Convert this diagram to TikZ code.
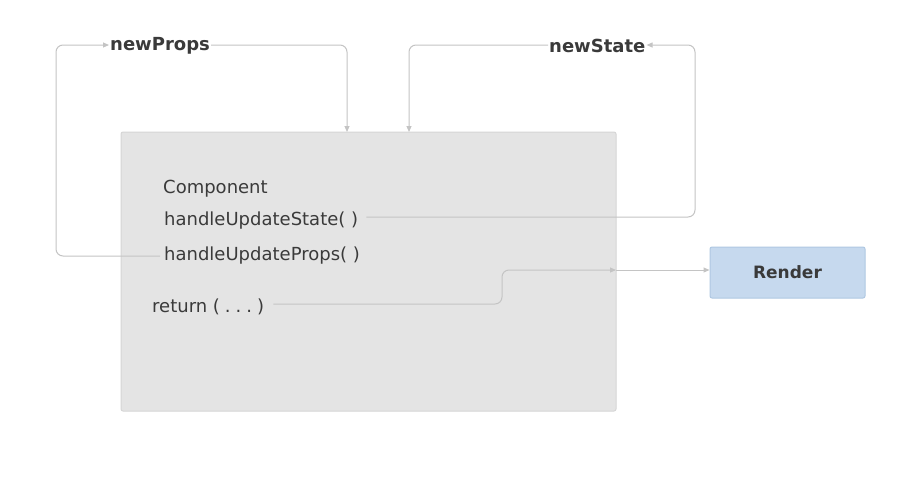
\documentclass[tikz,border=0pt]{standalone}
\usepackage{fontspec}
\setmainfont{DejaVu Sans}
\usetikzlibrary{arrows.meta,calc}
\definecolor{boxfill}{HTML}{E4E4E4}
\definecolor{boxline}{HTML}{D6D6D6}
\definecolor{conncol}{HTML}{C4C4C4}
\definecolor{rendfill}{HTML}{C6D9EE}
\definecolor{rendline}{HTML}{AFC8E2}
\definecolor{txt}{HTML}{3A3A3A}
\tikzset{
  x=1pt,y=1pt,
  comp/.style={draw=boxline,fill=boxfill,line width=1pt,rounded corners=2pt,minimum width=495pt,minimum height=279pt,inner sep=0pt},
  rend/.style={draw=rendline,fill=rendfill,line width=1pt,rounded corners=2pt,minimum width=155pt,minimum height=51pt,inner sep=0pt,font=\fontsize{17}{20}\selectfont\bfseries,text=txt},
  lab/.style={inner sep=0pt,anchor=west,font=\fontsize{18}{21}\selectfont,text=txt},
  blab/.style={inner sep=0pt,anchor=west,font=\fontsize{18}{21}\selectfont\bfseries,text=txt},
  conn/.style={draw=conncol,line width=1pt,rounded corners=7pt},
  arr/.style={-{Triangle[length=6pt,width=5pt]}},
}
\begin{document}
\begin{tikzpicture}
\useasboundingbox[fill=white] (0,0) rectangle (906,-491);
\node[comp] (comp) at (368.5,-271.5) {};
\node[rend] (render) at (787.5,-272.5) {Render};
\node[blab] (props) at (110,-46) {newProps};
\node[blab] (state) at (549,-46) {newState};
\node[lab] (cname) at (163,-189) {Component};
\node[lab] (hus) at (164,-221) {handleUpdateState( )};
\node[lab] (hup) at (164,-256) {handleUpdateProps( )};
\node[lab] (ret) at (152,-307) {return (\kern5pt.\kern5pt.\kern5pt.\kern5pt)};
\coordinate (ptop) at (347,-132);
\coordinate (stop) at (409,-132);
\coordinate (rin) at (616,-270);
% handleUpdateProps -> newProps
\draw[conn,arr] ([xshift=-4pt]hup.west) -| (56,-45) -- ([xshift=-1pt]props.west |- 0,-45);
% newProps -> component
\draw[conn,arr] ([xshift=1pt]props.east |- 0,-45) -| (ptop);
% handleUpdateState -> newState
\draw[conn,arr] ([xshift=8pt]hus.east |- 0,-217) -| (695,-45) -- ([xshift=1pt]state.east |- 0,-45);
% newState -> component
\draw[conn,arr] ([xshift=-1pt]state.west |- 0,-45) -| (stop);
% return -> render
\draw[conn,arr] ([xshift=9pt]ret.east |- 0,-304) -| (502,-270) -- (rin);
\draw[conn,arr] (rin) -- (render.west |- rin);
\end{tikzpicture}
\end{document}
